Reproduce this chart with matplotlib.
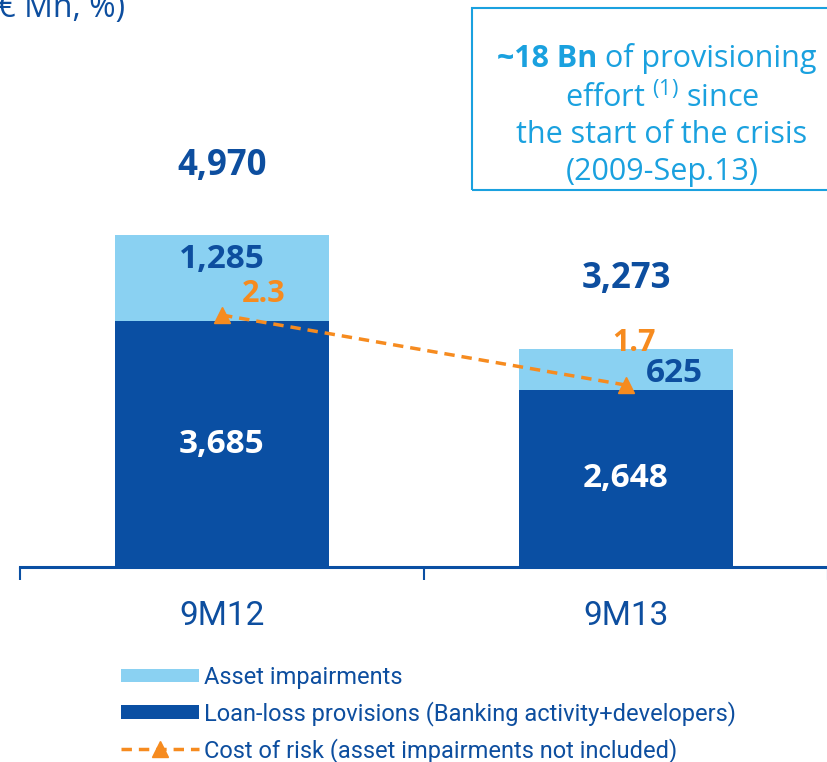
import matplotlib
matplotlib.use("Agg")
import matplotlib.pyplot as plt
from matplotlib.patches import Patch, Rectangle
from matplotlib.lines import Line2D

categories = ["9M12", "9M13"]
loan_loss = [3685, 2648]
impairments = [1285, 625]
totals = [4970, 3273]
cost_of_risk = [2.3, 1.7]
loan_labels = ["3,685", "2,648"]
imp_labels = ["1,285", "625"]
total_labels = ["4,970", "3,273"]
cor_labels = ["2.3", "1.7"]

DARK = "#0A4FA3"
LIGHT = "#8AD1F2"
ORANGE = "#F68B1F"
CYAN = "#1AA1DF"
NAVY = "#0D4E9F"

plt.rcParams['mathtext.fontset'] = 'custom'
plt.rcParams['mathtext.rm'] = 'Open Sans'
NARROW = ['Roboto', 'DejaVu Sans']
BOLD = ['Open Sans', 'DejaVu Sans']

W, H = 828, 762
fig = plt.figure(figsize=(W / 100, H / 100), dpi=100)
ax = fig.add_axes([20 / W, 1 - 567 / H, 808 / W, 567 / H])
x = list(range(len(categories)))
ax.bar(x, loan_loss, width=0.53, color=DARK, zorder=2)
ax.bar(x, impairments, bottom=loan_loss, width=0.53, color=LIGHT, zorder=2)
ax.set_xlim(-0.5, 1.5)
ax.set_ylim(0, 8500)
for s in ["top", "right", "left"]:
    ax.spines[s].set_visible(False)
ax.spines["bottom"].set_color(DARK)
ax.spines["bottom"].set_linewidth(2.2)
ax.set_yticks([])
ax.set_xticks([-0.5, 0.5, 1.5], minor=True)
ax.set_xticks(x)
ax.set_xticklabels(categories, fontsize=24, color=NAVY, family=NARROW)
ax.tick_params(axis="x", which="major", length=0, pad=24)
ax.tick_params(axis="x", which="minor", length=9, width=1.5, color=DARK)

for i in x:
    ax.text(i, loan_loss[i] / 2, loan_labels[i], ha="center", va="center",
            color="white", fontsize=24, fontweight="bold", family=BOLD, zorder=5)
    ax.annotate(total_labels[i], (i, totals[i]), xytext=(0, 50), textcoords="offset points",
                ha="center", va="center", color=NAVY, fontsize=25, fontweight="bold", family=BOLD)
# impairment labels
ax.annotate(imp_labels[0], (0, totals[0]), xytext=(0, -17), textcoords="offset points",
            ha="center", va="center", color=NAVY, fontsize=24, fontweight="bold", family=BOLD, zorder=5)
ax.annotate(imp_labels[1], (1.12, loan_loss[1] + impairments[1] / 2), xytext=(0, -3),
            textcoords="offset points", ha="center", va="center", color=NAVY,
            fontsize=24, fontweight="bold", family=BOLD, zorder=5)

ax2 = ax.twinx()
ax2.set_ylim(0.141, 5.0)
ax2.axis("off")
ax2.plot(x, cost_of_risk, color=ORANGE, linestyle=(0, (3, 2)), linewidth=2.5,
         marker="^", markersize=11, zorder=4)
cor_off = [(30, 15), (6, 30)]
for i in x:
    ax2.annotate(cor_labels[i], (i, cost_of_risk[i]), xytext=cor_off[i], textcoords="offset points",
                 ha="center", va="center", color=ORANGE, fontsize=22, fontweight="bold", family=BOLD)

# info box
fig.patches.append(Rectangle((472 / W, 1 - 190 / H), 400 / W, 182 / H, transform=fig.transFigure,
                             fill=False, edgecolor=CYAN, linewidth=1.5))
t1 = fig.text(497 / W, 1 - 74 / H, "~18 Bn", color=CYAN, fontsize=22, fontweight="bold",
              family=BOLD, va="bottom", ha="left")
ax.annotate(" of provisioning", xy=(1, 0), xycoords=t1, color=CYAN, fontsize=22, family=BOLD,
            va="bottom", ha="left", annotation_clip=False)
box_lines = [r"effort $^{(1)}$ since", "the start of the crisis", "(2009-Sep.13)"]
box_y = [98, 135, 172]
for line, yy in zip(box_lines, box_y):
    fig.text(662 / W, 1 - yy / H, line, color=CYAN, fontsize=22, family=BOLD,
             ha="center", va="center")

fig.text(125 / W, 1 - 17 / H, "(€ Mn, %)", color=NAVY, fontsize=23, family=BOLD,
         ha="right", va="baseline")

handles = [Patch(facecolor=LIGHT, edgecolor="none"),
           Patch(facecolor=DARK, edgecolor="none"),
           Line2D([], [], color=ORANGE, linestyle=(0, (3, 2)), linewidth=2.5, marker="^", markersize=11)]
labels = ["Asset impairments", "Loan-loss provisions (Banking activity+developers)",
          "Cost of risk (asset impairments not included)"]
fig.legend(handles, labels, loc="lower left", bbox_to_anchor=(112 / W, -10 / H), frameon=False,
           prop={"family": NARROW, "size": 17}, labelcolor=NAVY, handlelength=3.3,
           handleheight=0.5, handletextpad=0.2, labelspacing=0.5, borderaxespad=0)

fig.savefig("out.png", dpi=100)
